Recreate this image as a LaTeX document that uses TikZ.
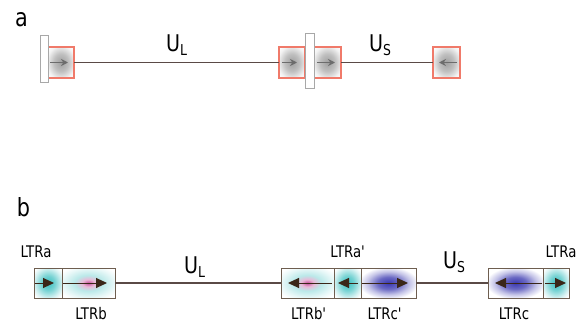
\documentclass[tikz,border=0pt]{standalone}
\usepackage{fontspec}
\setmainfont{DejaVu Sans}[FakeStretch=0.83]
\usetikzlibrary{arrows.meta,positioning}

\definecolor{boxred}{HTML}{F07A6A}
\definecolor{bargray}{HTML}{A8A8A8}
\definecolor{boxbrown}{HTML}{6E5E50}
\definecolor{linedark}{HTML}{5A4A46}
\definecolor{headdark}{HTML}{3A2618}
\definecolor{ltrcyan}{HTML}{3ABFC0}
\definecolor{ltrpink}{HTML}{C8509C}
\definecolor{ltrblue}{HTML}{3A38B0}

\pgfdeclareradialshading{ltrashade}{\pgfpoint{0bp}{0bp}}{%
  color(0bp)=(ltrcyan); color(12bp)=(ltrcyan!70!white);
  color(25bp)=(ltrcyan!20!white); color(32bp)=(white); color(50bp)=(white)}
\pgfdeclareradialshading{ltrbshade}{\pgfpoint{0bp}{0bp}}{%
  color(0bp)=(ltrpink); color(6bp)=(ltrpink!40!white);
  color(13bp)=(ltrcyan!35!white); color(25bp)=(ltrcyan!10!white); color(31bp)=(white); color(50bp)=(white)}
\pgfdeclareradialshading{ltrcshade}{\pgfpoint{0bp}{0bp}}{%
  color(0bp)=(ltrblue); color(10bp)=(ltrblue!75!white);
  color(19bp)=(ltrblue!30!white); color(27bp)=(white); color(50bp)=(white)}
\pgfdeclareradialshading{grayshade}{\pgfpoint{0bp}{0bp}}{%
  color(0bp)=(gray!75); color(14bp)=(gray!50); color(27bp)=(gray!10); color(34bp)=(white); color(50bp)=(white)}

\newcommand{\panelfont}{\fontsize{25}{30}\selectfont}
\newcommand{\lblfont}{\fontsize{16}{19}\selectfont}
\newcommand{\ufont}{\fontsize{23}{27}\selectfont}
\newcommand{\Useg}[1]{U\raisebox{-4pt}{\fontsize{15}{17}\selectfont #1}}

\begin{document}
\begin{tikzpicture}[
    x=1pt, y=-1pt,
    redbox/.style={draw=boxred, line width=1.2pt, shading=grayshade, minimum width=26pt, minimum height=31pt, inner sep=0pt, outer sep=0pt},
    gbar/.style={draw=bargray, fill=white, line width=1pt, minimum width=8pt, inner sep=0pt, outer sep=0pt},
    ltr/.style={draw=boxbrown, line width=1pt, minimum height=30pt, inner sep=0pt, outer sep=0pt},
    ltra/.style={ltr, shading=ltrashade, minimum width=27pt},
    ltrb/.style={ltr, shading=ltrbshade, minimum width=53pt},
    ltrc/.style={ltr, shading=ltrcshade, minimum width=55pt},
    seg/.style={draw=linedark, line width=1.1pt},
    garr/.style={-{Stealth[length=7pt,width=7pt]}, gray!85!black, line width=1.3pt},
    darr/.style={-{Triangle[length=11pt,width=10pt]}, headdark, line width=1pt},
    lbl/.style={font=\lblfont, anchor=base, inner sep=0pt},
    ulbl/.style={font=\ufont, anchor=base west, inner sep=1pt}
]
    \useasboundingbox (0,0) rectangle (581,324);

    % panel a
    \node[font=\panelfont, anchor=base] (pa) at (21.5,26) {a};
    \node[redbox] (boxA) at (61,62.5) {};
    \node[redbox] (boxB) at (292,62.5) {};
    \node[redbox, minimum width=27pt] (boxC) at (327.5,62.5) {};
    \node[redbox, minimum width=27pt] (boxD) at (446.5,62.5) {};
    \node[gbar, minimum height=47pt] (barA) at (44.5,58.5) {};
    \node[gbar, minimum width=9pt, minimum height=55pt] (barB) at (309.5,60.5) {};

    \draw[seg] (boxA.east) -- (boxB.west);
    \draw[seg] (boxC.east) -- (boxD.west);
    \node[ulbl] (ulA) at (165,51) {\Useg{L}};
    \node[ulbl] (usA) at (368,51) {\Useg{S}};

    \draw[garr] ([xshift=2pt]boxA.west) -- ([xshift=-6pt]boxA.east);
    \draw[garr] ([xshift=3pt]boxB.west) -- ([xshift=-8pt]boxB.east);
    \draw[garr] ([xshift=3pt]boxC.west) -- ([xshift=-6pt]boxC.east);
    \draw[garr] ([xshift=-3pt]boxD.east) -- ([xshift=6pt]boxD.west);

    % panel b
    \node[font=\panelfont, anchor=base] (pb) at (23.5,216) {b};
    \node[ltra, minimum width=28pt] (ltrA1) at (48,283) {};
    \node[ltrb, right=0pt of ltrA1] (ltrB) {};
    \node[ltrb] (ltrBp) at (307.5,283) {};
    \node[ltra, right=0pt of ltrBp] (ltrAp) {};
    \node[ltrc, right=0pt of ltrAp] (ltrCp) {};
    \node[ltrc] (ltrC) at (515.5,283) {};
    \node[ltra, minimum width=26pt, right=0pt of ltrC] (ltrA2) {};

    \draw[seg] (ltrB.east) -- (ltrBp.west);
    \draw[seg] (ltrCp.east) -- (ltrC.west);
    \node[ulbl] (ulB) at (183,273) {\Useg{L}};
    \node[ulbl] (usB) at (442,268) {\Useg{S}};

    \draw[darr] ([xshift=1pt]ltrA1.west) -- ([xshift=-8pt]ltrA1.east);
    \draw[darr] ([xshift=1pt]ltrB.west) -- ([xshift=-8pt]ltrB.east);
    \draw[darr] ([xshift=-2pt]ltrBp.east) -- ([xshift=7pt]ltrBp.west);
    \draw[darr] ([xshift=-3pt]ltrAp.east) -- ([xshift=4pt]ltrAp.west);
    \draw[darr] ([xshift=1pt]ltrCp.west) -- ([xshift=-8pt]ltrCp.east);
    \draw[darr] ([xshift=-1pt]ltrC.east) -- ([xshift=7pt]ltrC.west);
    \draw[darr] ([xshift=2pt]ltrA2.west) -- ([xshift=-3pt]ltrA2.east);

    \node[lbl] (tA1) at (36,257) {LTRa};
    \node[lbl] (tB) at (91,319) {LTRb};
    \node[lbl] (tBp) at (309,319) {LTRb\textquotesingle};
    \node[lbl] (tAp) at (348,257) {LTRa\textquotesingle};
    \node[lbl] (tCp) at (385,319) {LTRc\textquotesingle};
    \node[lbl] (tC) at (514,319) {LTRc};
    \node[lbl] (tA2) at (561,257) {LTRa};
\end{tikzpicture}
\end{document}
